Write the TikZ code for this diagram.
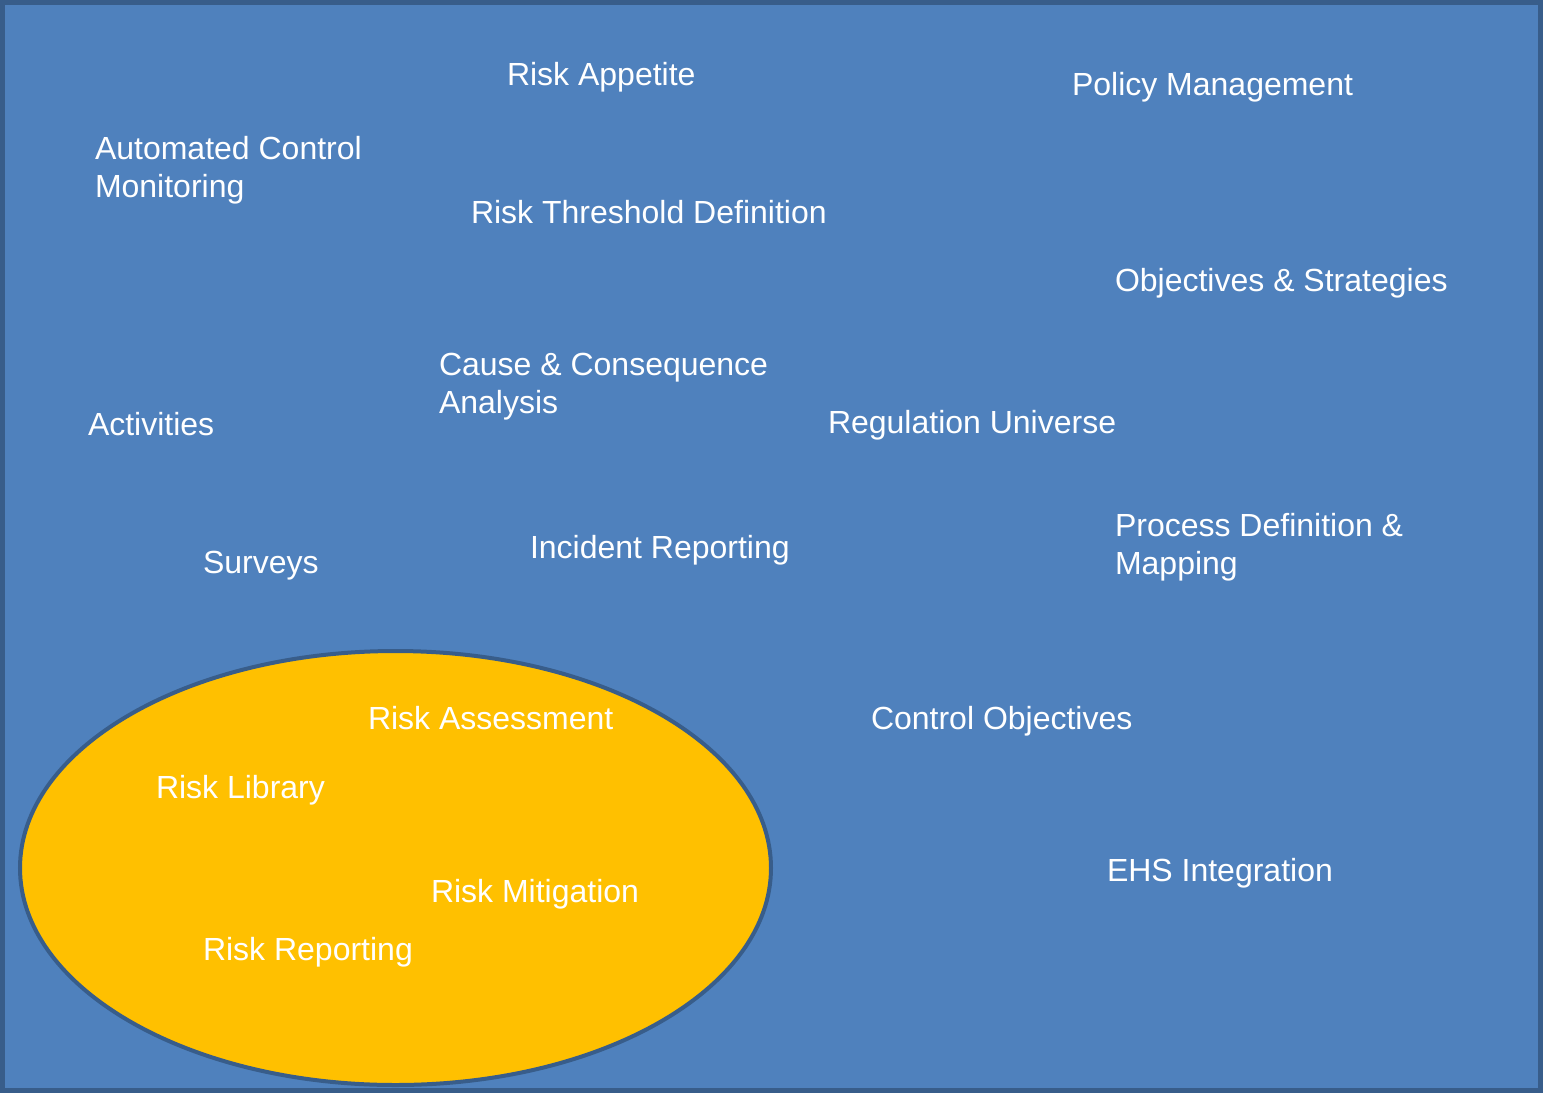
\documentclass[tikz,border=0pt]{standalone}
\usepackage{fontspec}
\setmainfont{Liberation Sans}
\definecolor{bgblue}{HTML}{4F81BD}
\definecolor{edgeblue}{HTML}{385D8A}
\definecolor{gold}{HTML}{FFC000}
\tikzset{
  lbl/.style={anchor=base west, inner sep=0pt, outer sep=0pt, text=white, align=left,
    font=\fontsize{32}{38}\selectfont},
}
\begin{document}
\begin{tikzpicture}[x=1pt,y=-1pt]
\useasboundingbox (0,0) rectangle (1543,1093);
\draw[fill=bgblue, draw=edgeblue, line width=5pt] (2.5,2.5) rectangle (1540.5,1090.5);
\draw[fill=gold, draw=edgeblue, line width=4pt] (395.5,868) ellipse [x radius=375.5, y radius=217];
\node[lbl] (appetite) at (507,85) {Risk Appetite};
\node[lbl] (policy) at (1072,95) {Policy Management};
\node[lbl] (acm) at (95,197) {Automated Control\\Monitoring};
\node[lbl] (threshold) at (471,223) {Risk Threshold Definition};
\node[lbl] (objectives) at (1115,291) {Objectives \& Strategies};
\node[lbl] (cause) at (439,413) {Cause \& Consequence\\Analysis};
\node[lbl] (activities) at (88,435) {Activities};
\node[lbl] (regulation) at (828,433) {Regulation Universe};
\node[lbl] (process) at (1115,574) {Process Definition \&\\Mapping};
\node[lbl] (surveys) at (203,573) {Surveys};
\node[lbl] (incident) at (530,558) {Incident Reporting};
\node[lbl] (assessment) at (368,729) {Risk Assessment};
\node[lbl] (control) at (871,729) {Control Objectives};
\node[lbl] (library) at (156,798) {Risk Library};
\node[lbl] (ehs) at (1107,881) {EHS Integration};
\node[lbl] (mitigation) at (431,902) {Risk Mitigation};
\node[lbl] (reporting) at (203,960) {Risk Reporting};
\end{tikzpicture}
\end{document}
